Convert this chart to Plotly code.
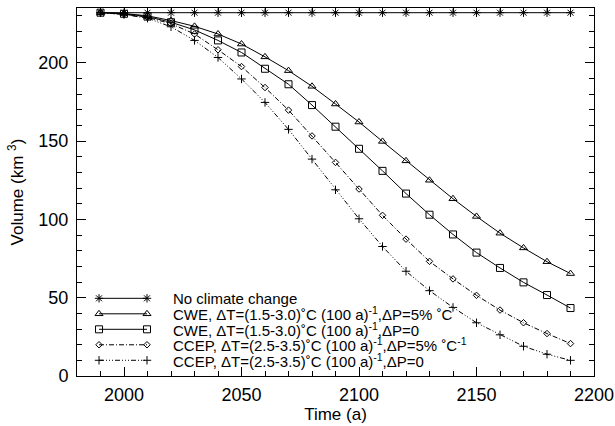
import plotly.graph_objects as go

years = [1990, 2000, 2010, 2020, 2030, 2040, 2050, 2060, 2070, 2080, 2090,
         2100, 2110, 2120, 2130, 2140, 2150, 2160, 2170, 2180, 2190]
no_change = [232] * 21
cwe_dp5 = [232, 231.5, 230, 227, 223.3, 218.4, 212, 203.8, 195, 185, 173.7,
           162.2, 149.8, 137.4, 125, 113.2, 101.9, 91.2, 81.8, 73, 65.4]
cwe_dp0 = [232, 231.3, 229.5, 225.9, 221, 214.3, 206.6, 196.2, 186.3, 173, 159.2,
           145.1, 131, 116.5, 103, 90.4, 78.8, 69, 59.8, 51.7, 43.4]
ccep_dp5 = [232, 231, 229, 225, 218.4, 208.3, 197.6, 184.2, 169.8, 153.3, 136.4,
            119.4, 102.6, 87.4, 73.2, 62, 51.5, 42.1, 34, 27.1, 20.7]
ccep_dp0 = [232, 230.8, 228.5, 223, 214.3, 203.4, 189.7, 174.7, 157.5, 138.5, 118.9,
            100.4, 82.7, 66.9, 54.5, 43.8, 34, 26.3, 19, 13.9, 10]

names = [
    "No climate change",
    "CWE, ΔT=(1.5-3.0)˚C (100 a)<sup>-1</sup>,ΔP=5% ˚C",
    "CWE, ΔT=(1.5-3.0)˚C (100 a)<sup>-1</sup>,ΔP=0",
    "CCEP, ΔT=(2.5-3.5)˚C (100 a)<sup>-1</sup>,ΔP=5% ˚C<sup>-1</sup>",
    "CCEP, ΔT=(2.5-3.5)˚C (100 a)<sup>-1</sup>,ΔP=0",
]
series = [no_change, cwe_dp5, cwe_dp0, ccep_dp5, ccep_dp0]
symbols = ["asterisk-open", "triangle-up-open", "square-open", "diamond-open", "cross-thin-open"]
sizes = [7, 7, 7, 5, 6]
dashes = ["solid", "solid", "solid", "5px,2px,1px,2px", "5px,2px,1px,2px,1px,2px,1px,2px"]

FONT = "Liberation Sans, Arial, Helvetica, sans-serif"

fig = go.Figure()
for nm, ys, sym, sz, ds in zip(names, series, symbols, sizes, dashes):
    fig.add_trace(go.Scatter(
        x=years, y=ys, name=nm, mode="lines+markers", showlegend=False,
        line=dict(color="black", width=1, dash=ds),
        marker=dict(symbol=sym, size=sz, color="black", line=dict(color="black", width=1)),
    ))

# Legend drawn inside the plot: sample line with a marker at each end, then the label
leg_x0, leg_x1, leg_text_x = 0.0426, 0.1354, 0.182
leg_y_top, leg_step = 0.2111, 0.0421
for i, (nm, sym, sz, ds) in enumerate(zip(names, symbols, sizes, dashes)):
    yy = leg_y_top - i * leg_step
    fig.add_trace(go.Scatter(
        x=[leg_x0, leg_x1], y=[yy, yy], mode="lines+markers", showlegend=False,
        xaxis="x2", yaxis="y2", hoverinfo="skip",
        line=dict(color="black", width=1, dash=ds),
        marker=dict(symbol=sym, size=sz, color="black", line=dict(color="black", width=1)),
    ))
    fig.add_annotation(x=leg_text_x, y=yy, xref="paper", yref="paper",
                       text=nm, showarrow=False, xanchor="left", yanchor="middle",
                       font=dict(family=FONT, size=15, color="black"))

axis_common = dict(
    showline=True, linecolor="black", linewidth=1, mirror="allticks",
    ticks="inside", ticklen=9, tickwidth=1, tickcolor="black",
    showgrid=False, zeroline=False, automargin=False,
    tickfont=dict(family=FONT, size=18, color="black"),
    title_font=dict(family=FONT, size=17, color="black"),
)
fig.update_xaxes(range=[1980, 2200], tick0=2000, dtick=50, ticklabelstandoff=2,
                 minor=dict(ticks="inside", ticklen=5, dtick=10, tick0=1980, tickcolor="black"),
                 title=dict(text="Time (a)", standoff=1), **axis_common)
fig.update_yaxes(range=[0, 235], tick0=0, dtick=50, ticklabelstandoff=4,
                 minor=dict(ticks="inside", ticklen=5, dtick=10, tick0=0, tickcolor="black"),
                 title=dict(text="Volume (km <sup>3</sup>)", standoff=10), **axis_common)

fig.update_layout(
    width=615, height=426,
    margin=dict(l=77, r=21, t=8, b=50),
    plot_bgcolor="white", paper_bgcolor="white",
    showlegend=False,
    xaxis2=dict(overlaying="x", range=[0, 1], visible=False, fixedrange=True),
    yaxis2=dict(overlaying="y", range=[0, 1], visible=False, fixedrange=True),
)

fig.write_html("out.html", config={"displayModeBar": False},
               post_script="document.body.style.margin='0';")
